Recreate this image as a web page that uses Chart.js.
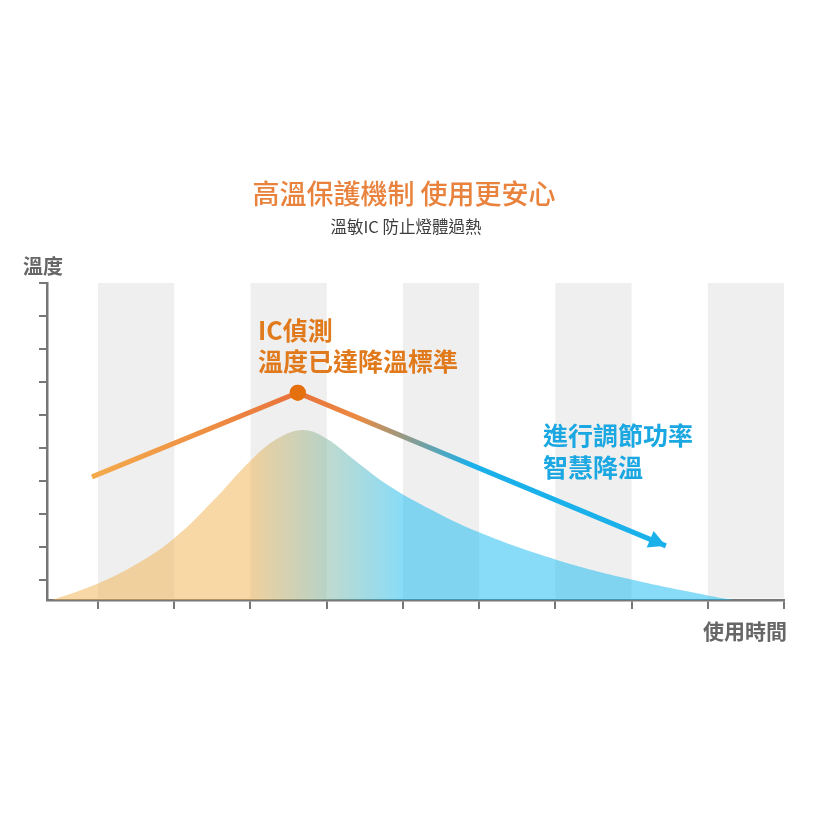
<!DOCTYPE html>
<html><head><meta charset="utf-8">
<script src="https://cdn.jsdelivr.net/npm/chart.js@4.4.1/dist/chart.umd.min.js"></script>
<style>html,body{margin:0;padding:0;background:#fff}#wrap{width:822px;height:822px;position:relative}</style>
</head><body><div id="wrap"><canvas id="c"></canvas></div>
<script>
// ---- data ----
const curveX = [-0.6, 0, 0.5, 1.0, 1.5, 2.0, 2.35, 2.69, 3.0, 3.4, 3.8, 4.3, 5.0, 6.0, 7.0, 8.0, 8.35];
const curveY = [-0.6, -0.1, 0.48, 1.27, 2.38, 3.62, 4.28, 4.55, 4.28, 3.57, 2.88, 2.22, 1.45, 0.63, 0.02, -0.46, -0.6];
const lineX = [-0.08, 2.62, 7.45];
const lineY = [3.13, 5.68, 1.04];
const xTicks = [0, 1, 2, 3, 4, 5, 6, 7, 8, 9];
const yTicks = [0, 1, 2, 3, 4, 5, 6, 7, 8, 9];
const bandStarts = [0, 2, 4, 6, 8];
const titleText = '高溫保護機制 使用更安心';
const subtitleText = '溫敏IC 防止燈體過熱';
const yAxisLabel = '溫度';
const xAxisLabel = '使用時間';
const peakNote = ['IC偵測', '溫度已達降溫標準'];
const coolNote = ['進行調節功率', '智慧降溫'];

const FONT = '"Noto Sans CJK TC", "Noto Sans", sans-serif';

function hGrad(chart, stops) {
  const {ctx, chartArea, scales} = chart;
  if (!chartArea) return null;
  const x0 = chartArea.left, x1 = chartArea.right;
  const g = ctx.createLinearGradient(x0, 0, x1, 0);
  for (const [v, c] of stops) {
    const p = scales.x.getPixelForValue(v);
    g.addColorStop(Math.min(1, Math.max(0, (p - x0) / (x1 - x0))), c);
  }
  return g;
}

const bandsPlugin = {
  id: 'bands',
  beforeDatasetsDraw(chart) {
    const {ctx, chartArea, scales} = chart;
    ctx.save();
    ctx.fillStyle = '#efefef';
    for (const b of bandStarts) {
      const a = scales.x.getPixelForValue(b), e = scales.x.getPixelForValue(b + 1);
      ctx.fillRect(a, chartArea.top, e - a, chartArea.bottom - chartArea.top - 1.5);
    }
    ctx.restore();
  }
};

const arrowPlugin = {
  id: 'arrow',
  afterDatasetsDraw(chart) {
    const meta = chart.getDatasetMeta(1);
    const pts = meta.data;
    const p1 = pts[pts.length - 2], p2 = pts[pts.length - 1];
    const ang = Math.atan2(p2.y - p1.y, p2.x - p1.x);
    const {ctx} = chart;
    const L = 17, W = 9;
    ctx.save();
    ctx.translate(p2.x, p2.y);
    ctx.rotate(ang);
    ctx.fillStyle = '#1ab0ea';
    ctx.beginPath();
    ctx.moveTo(0, 0);
    ctx.lineTo(-L, -W);
    ctx.lineTo(-L, W);
    ctx.closePath();
    ctx.fill();
    ctx.restore();
    const pk = pts[1];
    ctx.save();
    ctx.fillStyle = '#e5700e';
    ctx.beginPath();
    ctx.arc(pk.x, pk.y, 8, 0, Math.PI * 2);
    ctx.fill();
    ctx.restore();
  }
};

const textPlugin = {
  id: 'texts',
  afterDraw(chart) {
    const {ctx, chartArea} = chart;
    ctx.save();
    ctx.textBaseline = 'middle';
    ctx.textAlign = 'center';
    ctx.fillStyle = '#e8823c';
    ctx.font = '500 27px ' + FONT;
    ctx.fillText(titleText, 404, 194);
    ctx.fillStyle = '#3d3d3d';
    ctx.font = '16.5px ' + FONT;
    ctx.fillText(subtitleText, 406, 227);

    ctx.fillStyle = '#666';
    ctx.textAlign = 'left';
    ctx.font = 'bold 20px ' + FONT;
    ctx.fillText(yAxisLabel, 23, 266);
    ctx.textAlign = 'right';
    ctx.font = 'bold 21px ' + FONT;
    ctx.fillText(xAxisLabel, chartArea.right + 3, 631);

    ctx.textAlign = 'left';
    ctx.font = 'bold 25px ' + FONT;
    ctx.fillStyle = '#e07a1c';
    ctx.fillText(peakNote[0], 258, 330);
    ctx.fillText(peakNote[1], 258, 361);
    ctx.fillStyle = '#1ba8e2';
    ctx.fillText(coolNote[0], 543, 435);
    ctx.fillText(coolNote[1], 543, 467);
    ctx.restore();
  }
};

new Chart(document.getElementById('c'), {
  type: 'line',
  data: {
    datasets: [
      {
        data: curveX.map((x, i) => ({x, y: curveY[i]})),
        order: 2,
        borderWidth: 0,
        pointRadius: 0,
        fill: 'start',
        tension: 0.4,
        backgroundColor: (c) => hGrad(c.chart, [[-1, 'rgba(239,177,77,0.5)'], [2.0, 'rgba(239,177,77,0.5)'], [4.0, 'rgba(19,185,239,0.5)'], [9, 'rgba(19,185,239,0.5)']])
      },
      {
        data: lineX.map((x, i) => ({x, y: lineY[i]})),
        order: 1,
        borderWidth: 5,
        tension: 0,
        fill: false,
        pointRadius: [0, 8, 0],
        pointBorderWidth: 0,
        pointBackgroundColor: '#e5700e',
        borderColor: (c) => hGrad(c.chart, [[-0.1, '#f4ab4c'], [1.5, '#ee8d42'], [2.62, '#e8713c'], [3.4, '#eb8a40'], [4.9, '#1ab0ea'], [9, '#1ab0ea']])
      }
    ]
  },
  options: {
    responsive: true,
    maintainAspectRatio: false,
    animation: false,
    events: [],
    layout: {padding: {left: 35, top: 283, right: 38, bottom: 210}},
    plugins: {legend: {display: false}, tooltip: {enabled: false}, title: {display: false}},
    scales: {
      x: {
        type: 'linear', min: -0.67, max: 9,
        afterBuildTicks: (s) => { s.ticks = xTicks.map(v => ({value: v})); },
        afterFit: (s) => { s.height = 12; },
        ticks: {display: false},
        grid: {drawOnChartArea: false, drawTicks: true, tickLength: 9, color: '#777', lineWidth: 2},
        border: {color: '#777', width: 2.5}
      },
      y: {
        type: 'linear', min: -0.6, max: 9,
        afterBuildTicks: (s) => { s.ticks = yTicks.map(v => ({value: v})); },
        afterFit: (s) => { s.width = 12; },
        ticks: {display: false},
        grid: {drawOnChartArea: false, drawTicks: true, tickLength: 8, color: '#777', lineWidth: 2},
        border: {color: '#777', width: 2.5}
      }
    }
  },
  plugins: [bandsPlugin, arrowPlugin, textPlugin]
});
</script>
</body></html>
